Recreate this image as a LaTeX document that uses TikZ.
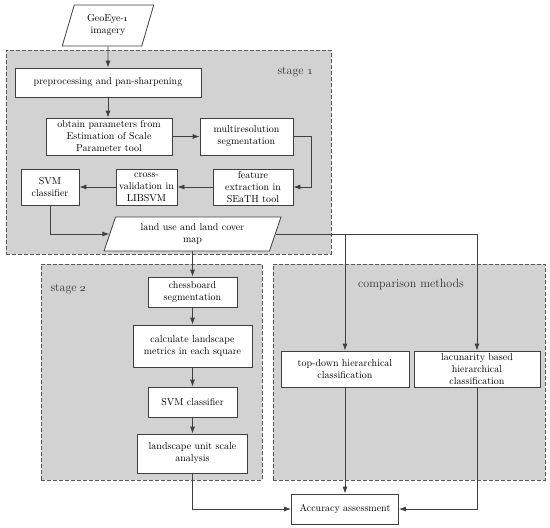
\documentclass[tikz,border=0pt]{standalone}
\usepackage{tikz}
\usetikzlibrary{arrows.meta, shapes.geometric, backgrounds}

\begin{document}
\begin{tikzpicture}[
    x=1pt, y=-1pt,
    >={Latex[length=7pt,width=5pt]},
    proc/.style={draw=black!75, thick, fill=white, align=center, inner sep=2pt, minimum height=30pt},
    data/.style={draw=black!75, thick, fill=white, align=center, inner sep=2pt, trapezium, trapezium left angle=72, trapezium right angle=108, trapezium stretches=true},
    stagebox/.style={draw=black!65, thick, dash pattern=on 4pt off 2pt, fill=gray!35},
    stagelabel/.style={font=\large, text=black!80},
    flow/.style={->, thick, draw=black!75}
]
\useasboundingbox (0,0) rectangle (550,528);

% stages
\node[stagebox, minimum width=325pt, minimum height=204pt] (stage1) at (168.5,152) {};
\node[stagebox, minimum width=221pt, minimum height=216pt] (stage2) at (151.5,372) {};
\node[stagebox, minimum width=272pt, minimum height=216pt] (cmp) at (409,372) {};
\node[stagelabel] (lab1) at (295.5,72) {stage \oldstylenums{1}};
\node[stagelabel] (lab2) at (68.5,289) {stage \oldstylenums{2}};
\node[stagelabel] (lab3) at (411,284) {comparison methods};

% stage 1
\node[data, minimum width=92pt, minimum height=41pt] (geo) at (108,25.5) {GeoEye-\oldstylenums{1}\\imagery};
\node[proc, minimum width=186pt, minimum height=29pt] (pre) at (108,82.5) {preprocessing and pan-sharpening};
\node[proc, minimum width=126pt, minimum height=37pt] (obtain) at (109,136.5) {obtain parameters from\\Estimation of Scale\\Parameter tool};
\node[proc, minimum width=93pt, minimum height=37pt] (multi) at (246.5,136.5) {multiresolution\\segmentation};
\node[proc, minimum width=80pt, minimum height=36pt] (feat) at (253,187) {feature\\extraction in\\SEaTH tool};
\node[proc, minimum width=61pt, minimum height=36pt] (cross) at (146.5,187) {cross-\\validation in\\LIBSVM};
\node[proc, minimum width=58pt, minimum height=36pt] (svma) at (50,187) {SVM\\classifier};
\node[data, minimum width=177pt, minimum height=34pt] (map) at (192.5,234) {land use and land cover\\map};

% stage 2
\node[proc, minimum width=89pt, minimum height=30pt] (chess) at (192.5,292) {chessboard\\segmentation};
\node[proc, minimum width=119pt, minimum height=42pt] (calc) at (192.5,346) {calculate landscape\\metrics in each square};
\node[proc, minimum width=89pt, minimum height=30pt] (svmb) at (192.5,402) {SVM classifier};
\node[proc, minimum width=110pt, minimum height=39pt] (unit) at (192.5,453.5) {landscape unit scale\\analysis};

% comparison methods
\node[proc, minimum width=128pt, minimum height=36pt] (topdown) at (345,369) {top-down hierarchical\\classification};
\node[proc, minimum width=126pt, minimum height=36pt] (lacun) at (477,369) {lacunarity based\\hierarchical\\classification};
\node[proc, minimum width=107pt, minimum height=30pt] (acc) at (345,509) {Accuracy assessment};

\draw[flow] (geo.south) -- (pre.north);
\draw[flow] (pre.south) -- (pre.south |- obtain.north);
\draw[flow] (obtain.east) -- (multi.west);
\draw[flow] (multi.east) -- ++(18,0) |- (feat.east);
\draw[flow] (feat.west) -- (cross.east);
\draw[flow] (cross.west) -- (svma.east);
\draw[flow] (svma.south) |- (map.west);
\draw[flow] (map.south) -- (chess.north);
\draw[flow] (map.east) -- (lacun.north |- map.east) -- (lacun.north);
\draw[flow] (topdown.north |- map.east) -- (topdown.north);

\draw[flow] (chess.south) -- (calc.north);
\draw[flow] (calc.south) -- (svmb.north);
\draw[flow] (svmb.south) -- (unit.north);
\draw[flow] (unit.south) |- (acc.west);
\draw[flow] (topdown.south) -- (acc.north);
\draw[flow] (lacun.south) |- (acc.east);

\end{tikzpicture}
\end{document}
